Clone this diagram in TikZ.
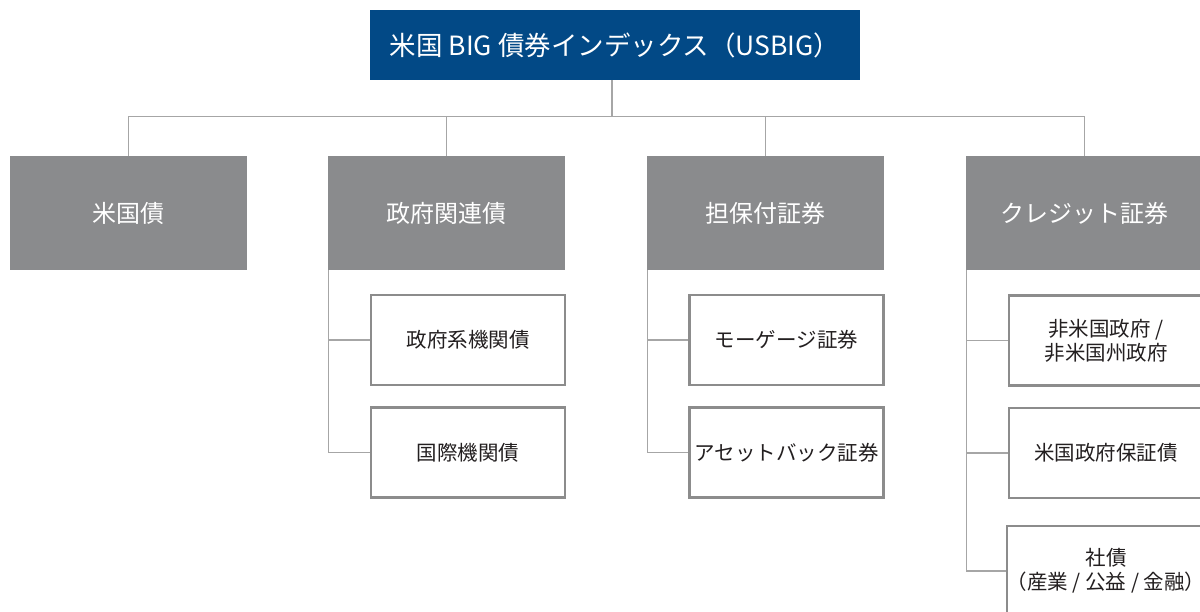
\documentclass[tikz,border=0pt]{standalone}
\usepackage{fontspec}
\setmainfont{Noto Sans CJK JP}
\definecolor{topblue}{RGB}{2,73,134}
\definecolor{catgray}{RGB}{138,139,141}
\definecolor{linegray}{RGB}{166,166,166}
\definecolor{subborder}{RGB}{140,140,140}
\definecolor{txtdark}{RGB}{35,31,32}
\tikzset{
  topbox/.style={draw=none, fill=topblue, text=white, minimum width=490pt, minimum height=70pt, inner sep=0pt, font=\fontsize{26.5}{30}\selectfont},
  catbox/.style={draw=none, fill=catgray, text=white, minimum width=237pt, minimum height=114pt, inner sep=0pt, font=\fontsize{24}{27}\selectfont},
  subbox/.style={draw=subborder, line width=2.4pt, fill=white, text=txtdark, minimum width=194pt, minimum height=90pt, inner sep=0pt, align=center, font=\fontsize{20.5}{24}\selectfont},
  conn/.style={draw=linegray, line width=1.3pt}
}
\begin{document}
\begin{tikzpicture}[x=1pt,y=-1pt]
\useasboundingbox (0,0) rectangle (1200,612);
\clip (0,0) rectangle (1200,612);
\fill[white] (0,0) rectangle (1200,612);
% top
\node[topbox] (top) at (615,45) {米国 BIG 債券インデックス（USBIG）};
\coordinate (bus) at (612,116.5);
% categories
\node[catbox] (g1) at (128.5,213) {米国債};
\node[catbox] (g2) at (446.5,213) {政府関連債};
\node[catbox] (g3) at (765.5,213) {担保付証券};
\node[catbox] (g4) at (1084.5,213) {クレジット証券};
% sub boxes
\node[subbox] (s21) at (468,340) {政府系機関債};
\node[subbox] (s22) at (468,452.5) {国際機関債};
\node[subbox] (s31) at (786.5,340) {モーゲージ証券};
\node[subbox] (s32) at (786.5,452.5) {アセットバック証券};
\node[subbox] (s41) at (1106,340.5) {非米国政府 /\\非米国州政府};
\node[subbox] (s42) at (1106,453) {米国政府保証債};
\node[subbox] (s43) at (1106,571) {社債\\（産業 / 公益 / 金融）};
% top connectors
\draw[conn] (bus |- top.south) -- (bus);
\draw[conn] (g1.north) -- (g1.north |- bus) -- (g4.north |- bus) -- (g4.north);
\draw[conn] (g2.north) -- (g2.north |- bus);
\draw[conn] (g3.north) -- (g3.north |- bus);
% column connectors
\coordinate (c2) at ([xshift=1pt]g2.south west);
\coordinate (c3) at ([xshift=1pt]g3.south west);
\coordinate (c4) at ([xshift=1pt]g4.south west);
\draw[conn] (c2) |- (s22.west);
\draw[conn] (c2 |- s21.west) -- (s21.west);
\draw[conn] (c3) |- (s32.west);
\draw[conn] (c3 |- s31.west) -- (s31.west);
\draw[conn] (c4) |- (s43.west);
\draw[conn] (c4 |- s41.west) -- (s41.west);
\draw[conn] (c4 |- s42.west) -- (s42.west);
\end{tikzpicture}
\end{document}
